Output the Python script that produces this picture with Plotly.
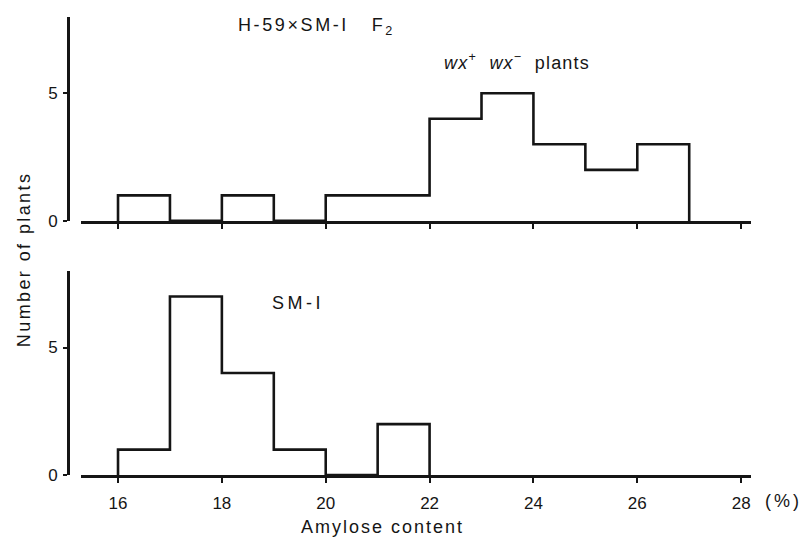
import plotly.graph_objects as go

# ---- data ----
top_edges = [16, 17, 18, 19, 20, 21, 22, 23, 24, 25, 26, 27]
top_counts = [1, 0, 1, 0, 1, 1, 4, 5, 3, 2, 3]
bot_edges = [16, 17, 18, 19, 20, 21, 22]
bot_counts = [1, 7, 4, 1, 0, 2]
x_ticks = [16, 18, 20, 22, 24, 26, 28]
y_ticks = [0, 5]

W, H = 803, 547
INK = "#151515"
FONT = "Liberation Sans, Arial, sans-serif"


def px(x):
    return x / W


def py(y):
    return 1 - y / H


def step(edges, counts):
    xs = [edges[0]] + list(edges)
    ys = [0] + list(counts) + [0]
    return xs, ys


def spaced(text, sp):
    return f"<span style='letter-spacing:{sp}px'>{text}</span>"


fig = go.Figure()
for edges, counts, xa, ya in [(top_edges, top_counts, "x", "y"),
                              (bot_edges, bot_counts, "x2", "y2")]:
    xs, ys = step(edges, counts)
    fig.add_trace(go.Scatter(x=xs, y=ys, mode="lines", line_shape="hv",
                             line=dict(color=INK, width=2.6),
                             xaxis=xa, yaxis=ya, showlegend=False,
                             hoverinfo="skip"))

xdom = [px(81), px(751)]
xrange_ = [15.287, 28.19]
common_x = dict(range=xrange_, domain=xdom, showgrid=False, zeroline=False,
                showline=True, linecolor=INK, linewidth=3,
                tickmode="array", tickvals=x_ticks, ticks="outside",
                ticklen=5, tickwidth=2, tickcolor=INK,
                ticklabelstandoff=5,
                tickfont=dict(family=FONT, size=17, color=INK))
common_y = dict(range=[0, 8], showgrid=False, zeroline=False,
                showline=True, linecolor=INK, linewidth=3,
                tickmode="array", tickvals=y_ticks, ticks="outside",
                ticklen=4, tickwidth=2, tickcolor=INK,
                ticklabelstandoff=2,
                anchor="free", position=px(68),
                tickfont=dict(family=FONT, size=17, color=INK))

fig.update_layout(
    width=W, height=H,
    margin=dict(l=0, r=0, t=0, b=0),
    paper_bgcolor="white", plot_bgcolor="white",
    xaxis=dict(common_x, anchor="y", showticklabels=False),
    yaxis=dict(common_y, domain=[py(225), py(17)]),
    xaxis2=dict(common_x, anchor="y2", showticklabels=True),
    yaxis2=dict(common_y, domain=[py(484), py(276)]),
)

ann = [
    (316, 27, spaced("H-59×SM-I   F<sub>2</sub>", 2.6), 0),
    (517, 63, spaced("<i>wx</i><sup>+</sup>  <i>wx</i><sup>−</sup>  plants", 1.2), 0),
    (298, 309, spaced("SM-I", 3.5), 0),
    (382, 537, spaced("Amylose content", 2), 0),
    (783, 510, spaced("(%)", 3), 0),
    (24, 265, spaced("Number of plants", 2.4), -90),
]
for x, y, t, ang in ann:
    fig.add_annotation(x=px(x), y=py(y), xref="paper", yref="paper",
                       text=t, showarrow=False, textangle=ang,
                       xanchor="center", yanchor="middle",
                       font=dict(family=FONT, size=18, color=INK))

fig.write_html("out.html")
